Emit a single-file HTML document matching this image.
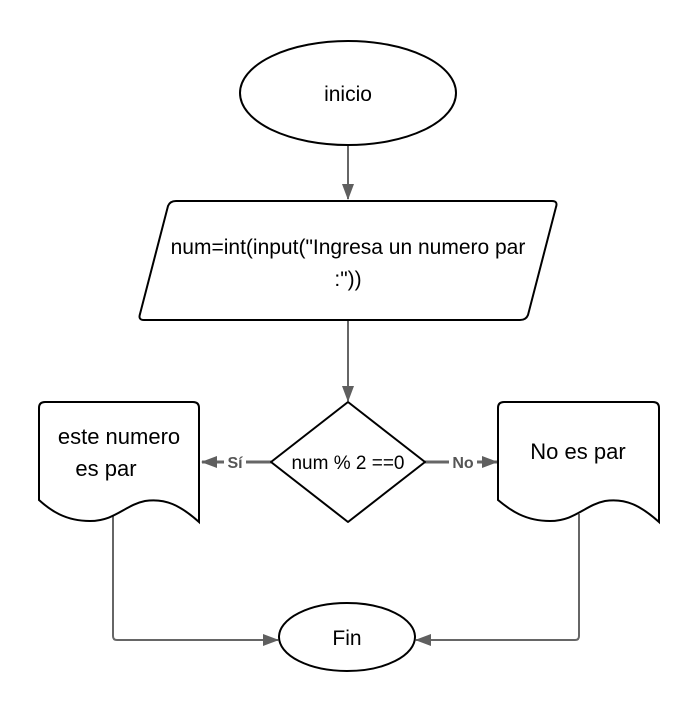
<!DOCTYPE html>
<html><head><style>body{margin:0;background:#fff}svg{display:block}</style></head><body>
<svg width="700" height="720" viewBox="0 0 700 720" xmlns="http://www.w3.org/2000/svg" font-family="Liberation Sans, sans-serif">
<defs><marker id="b" markerWidth="16" markerHeight="12" refX="15" refY="6" orient="auto" markerUnits="userSpaceOnUse"><path d="M0,0 L16,6 L0,12 z" fill="#5f5f5f"/></marker></defs>
<g fill="none" stroke="#666" stroke-width="2">
<line x1="348" y1="146" x2="348" y2="199" marker-end="url(#b)"/>
<line x1="348" y1="321" x2="348" y2="401" marker-end="url(#b)"/>
<line x1="271" y1="462" x2="202" y2="462" stroke-width="3" marker-end="url(#b)"/>
<line x1="425" y1="462" x2="497" y2="462" stroke-width="3" marker-end="url(#b)"/>
<path d="M113,514 L113,636 Q113,640 117,640 L278,640" marker-end="url(#b)"/>
<path d="M579,514 L579,636 Q579,640 575,640 L416,640" marker-end="url(#b)"/>
</g>
<g fill="#fff" stroke="#000" stroke-width="2">
<ellipse cx="348" cy="93" rx="108" ry="52"/>
<path d="M176,201 L552,201 Q558,201 556,207 L528,315 Q526,320 520,320 L144,320 Q138,320 140,314 L168,206 Q170,201 176,201 Z"/>
<path d="M348,402 L425,462 L348,522 L271,462 Z" stroke-linejoin="round"/>
<path d="M45,402 L193,402 Q199,402 199,408 L199,522 C180,505 165,498 145,501 C125,505 115,521 90,521 C65,521 50,510 39,500 L39,408 Q39,402 45,402 Z"/>
<path d="M504,402 L653,402 Q659,402 659,408 L659,522 C640,505 625,498 605,501 C585,505 575,521 550,521 C525,521 510,510 498,500 L498,408 Q498,402 504,402 Z"/>
<ellipse cx="347" cy="637" rx="68" ry="34"/>
</g>
<rect x="224" y="452" width="22" height="20" fill="#fff"/>
<rect x="449" y="452" width="28" height="20" fill="#fff"/>
<g font-size="21" fill="#000" text-anchor="middle">
<text x="348" y="101">inicio</text>
<text x="348" y="254">num=int(input("Ingresa un numero par</text>
<text x="348" y="286">:"))</text>
<text x="348" y="469" font-size="19">num % 2 ==0</text>
<text x="119" y="444" font-size="22">este numero</text>
<text x="106" y="476" font-size="22">es par</text>
<text x="578" y="459" font-size="22">No es par</text>
<text x="347" y="645">Fin</text>
<text x="235" y="468" font-size="16" font-weight="bold" fill="#555">Sí</text>
<text x="463" y="468" font-size="16" font-weight="bold" fill="#555">No</text>
</g>
</svg>
</body></html>
